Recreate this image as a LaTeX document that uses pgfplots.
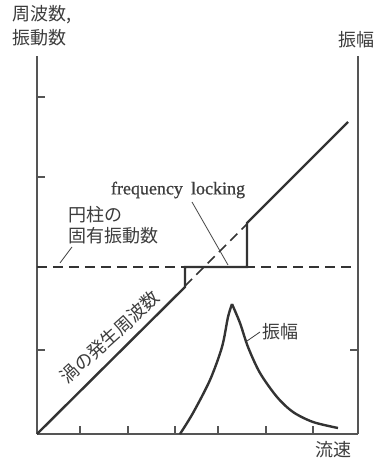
\documentclass[border=0pt]{standalone}
\usepackage{pgfplots}
\pgfplotsset{compat=1.18}
\usepackage{fontspec}
\newfontfamily\cjk{Noto Sans CJK JP}
\newfontfamily\serif[FakeBold=0.8]{Liberation Serif}
\definecolor{ink}{HTML}{333333}
\definecolor{txt}{HTML}{3C3C3C}
\definecolor{ax}{HTML}{555555}
\begin{document}
\begin{tikzpicture}
\begin{axis}[
  at={(0,0)}, anchor=south west,
  scale only axis, width=321pt, height=378pt,
  xmin=0, xmax=321, ymin=0, ymax=378,
  axis x line=bottom, axis y line=left,
  axis line style={-, line width=1.2pt, color=ax},
  xtick={43,91,138,181,229,276}, ytick={84,167,257,337},
  xticklabels={}, yticklabels={},
  tick align=inside, major tick length=8pt,
  tick style={line width=1.1pt, color=ax},
  clip=false,
]
% vortex shedding frequency with lock-in
\addplot[ink, line width=2.4pt, line join=miter] coordinates {
  (0,0) (148,147) (148,167) (210,167) (210,211) (311,312)};
% natural frequency of cylinder
\addplot[ink, line width=1.6pt, dash pattern=on 10pt off 6pt] coordinates {(0,167) (321,167)};
% dashed continuation of the shedding line
\addplot[ink, line width=1.6pt, dash pattern=on 10pt off 6pt] coordinates {(148,148) (210,210)};
% amplitude: rising flank
\addplot[ink, line width=2.4pt, smooth] coordinates {
  (143,0) (156,21) (173,54) (185,87) (191,117) (195,130)};
% amplitude: falling flank
\addplot[ink, line width=2.4pt, smooth] coordinates {
  (195,130) (203,111) (211,87) (223,61) (240,37) (256,22) (276,12) (301,6)};
% labels
\node[anchor=west, text=txt, font=\cjk\fontsize{18}{20}\selectfont, inner sep=0pt] at (axis cs:-25,419) {周波数,};
\node[anchor=west, text=txt, font=\cjk\fontsize{18}{20}\selectfont, inner sep=0pt] at (axis cs:-25,396) {振動数};
\node[text=txt, font=\cjk\fontsize{18}{20}\selectfont, inner sep=0pt] at (axis cs:319,394) {振幅};
\node[text=txt, font=\cjk\fontsize{18}{20}\selectfont, inner sep=0pt] at (axis cs:296,-16) {流速};
\node[text=txt, font=\serif\fontsize{18}{20}\selectfont, inner sep=0pt] at (axis cs:141,244) {frequency\hspace{0.45em}locking};
\draw[txt, line width=0.8pt] (axis cs:155,232) -- (axis cs:191,169);
\node[anchor=west, text=txt, font=\cjk\fontsize{18}{20}\selectfont, inner sep=0pt] at (axis cs:31,219) {円柱の};
\node[anchor=west, text=txt, font=\cjk\fontsize{18}{20}\selectfont, inner sep=0pt] at (axis cs:31,198) {固有振動数};
\draw[txt, line width=0.8pt] (axis cs:35,187) -- (axis cs:23,171);
\node[rotate=42, text=txt, font=\cjk\fontsize{18}{20}\selectfont, inner sep=0pt] at (axis cs:73,97) {渦の発生周波数};
\node[text=txt, font=\cjk\fontsize{18}{20}\selectfont, inner sep=0pt] at (axis cs:243,102) {振幅};
\draw[txt, line width=0.8pt] (axis cs:223,102) -- (axis cs:210,93);
\end{axis}
\begin{axis}[
  at={(0,0)}, anchor=south west,
  scale only axis, width=321pt, height=378pt,
  xmin=0, xmax=321, ymin=0, ymax=378,
  axis x line=none, axis y line=right,
  axis line style={-, line width=1.2pt, color=ax},
  xtick=\empty, ytick={84}, yticklabels={},
  tick align=inside, major tick length=8pt,
  tick style={line width=1.1pt, color=ax},
]
\end{axis}
\pgfresetboundingbox
\useasboundingbox (-37pt,-24pt) rectangle (341pt,434pt);
\end{tikzpicture}
\end{document}
